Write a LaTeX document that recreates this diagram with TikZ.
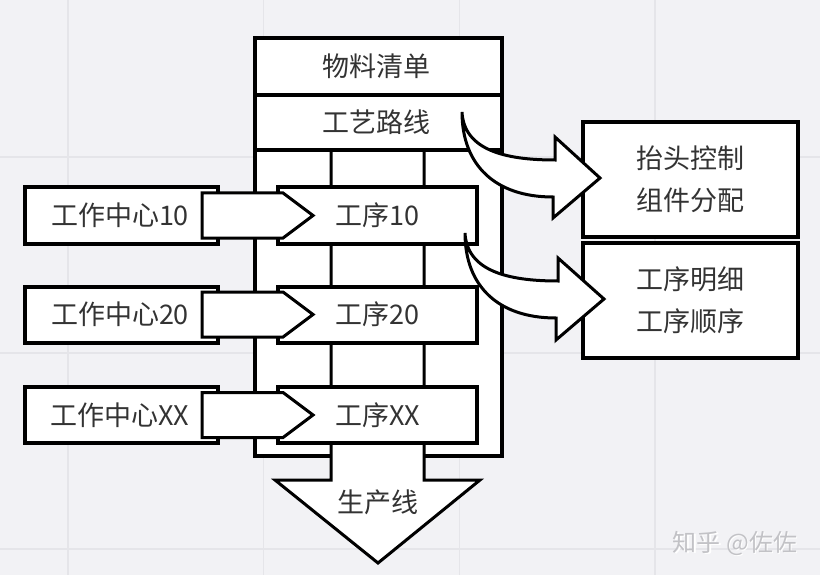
\documentclass[tikz,border=0pt]{standalone}
\usepackage{fontspec}
\newfontfamily\cjk{Noto Sans CJK SC}
\usetikzlibrary{calc}
\definecolor{bg}{HTML}{F2F2F5}
\definecolor{gridc}{HTML}{E5E5E9}
\definecolor{txt}{HTML}{333333}
\definecolor{wmc}{HTML}{C2C2C6}
\tikzset{
  box/.style={draw=black, line width=4pt, fill=white, inner sep=0pt, outer sep=0pt,
    text=txt, font=\cjk\fontsize{27}{42}\selectfont, align=center},
  label/.style={inner sep=0pt, text=txt, font=\cjk\fontsize{27}{42}\selectfont},
  thinline/.style={draw=black, line width=3pt},
  frameline/.style={draw=black, line width=4pt, line join=miter},
  parrow/.style={draw=black, line width=3pt, fill=white, line join=miter},
  carrow/.style={draw=black, line width=3pt, fill=white, line join=miter},
  gridline/.style={draw=gridc, line width=1.2pt},
}
\begin{document}
\begin{tikzpicture}[x=1pt,y=-1pt]
\fill[bg] (0,0) rectangle (820,575);
\useasboundingbox (0,0) rectangle (820,575);
% background grid
\foreach \gx in {68,263.7,459.3,655} \draw[gridline] (\gx,0) -- (\gx,575);
\foreach \gy in {157,353,549} \draw[gridline] (0,\gy) -- (820,\gy);

% frame body
\fill[white] (255,38) rectangle (502,456);
% vertical lines continuing into the production line arrow
\draw[thinline, fill=white, line join=miter] (331,150) -- (331,480) -- (275,480) -- (378,563) -- (480,480) -- (424,480) -- (424,150);
\draw[frameline] (331,456) -- (255,456) -- (255,38) -- (502,38) -- (502,456) -- (424,456);
\draw[frameline] (255,95) -- (502,95);
\draw[frameline] (255,150) -- (502,150);
\node[label] (bom) at (376.5,66.5) {物料清单};
\node[label] (route) at (376.5,122.5) {工艺路线};
\node[label] (line) at (378,502) {生产线};

% work centers and operations
\node[box, minimum width=193, minimum height=57] (w1) at (121.5,215.5) {工作中心10\hspace*{3pt}};
\node[box, minimum width=193, minimum height=56] (w2) at (121.5,314.5) {工作中心20\hspace*{3pt}};
\node[box, minimum width=193, minimum height=56] (w3) at (121.5,415) {工作中心XX\hspace*{3pt}};
\node[box, minimum width=199, minimum height=57] (p1) at (377.5,215.5) {工序10};
\node[box, minimum width=199, minimum height=56] (p2) at (377.5,314.5) {工序20};
\node[box, minimum width=199, minimum height=56] (p3) at (377.5,415) {工序XX};

\foreach \w in {w1,w2,w3}{
  \draw[parrow] ($(\w.east)+(-16,-22.5)$) -- ++(81,0) -- ++(30,22.5) -- ++(-30,22.5) -- ++(-81,0) -- cycle;
}

% right boxes
\node[box, minimum width=215, minimum height=115] (b1) at (690.5,179.5) {抬头控制\\组件分配};
\node[box, minimum width=215, minimum height=115] (b2) at (690.5,300.5) {工序明细\\工序顺序};

% curved arrows
\coordinate (s1) at (462,112);
\coordinate (s2) at (465,233);
\draw[carrow] (s1) .. controls ($(s1)+(2,38)$) and ($(s1)+(43,48)$) .. ($(s1)+(93,48)$)
  -- ($(s1)+(93,25)$) -- ($(s1)+(138,66)$) -- ($(s1)+(91,106)$) -- ($(s1)+(91,85)$)
  .. controls ($(s1)+(33,85)$) and ($(s1)+(0,53)$) .. (s1) -- cycle;
\draw[carrow] (s2) .. controls ($(s2)+(2,38)$) and ($(s2)+(43,48)$) .. ($(s2)+(93,48)$)
  -- ($(s2)+(93,25)$) -- ($(s2)+(139,66)$) -- ($(s2)+(91,107)$) -- ($(s2)+(91,85)$)
  .. controls ($(s2)+(33,85)$) and ($(s2)+(0,53)$) .. (s2) -- cycle;

% watermark
\node[inner sep=0pt, text=white, font=\cjk\fontsize{24}{24}\selectfont] (wm1) at (736.5,544.5) {知乎 @佐佐};
\node[inner sep=0pt, text=wmc, font=\cjk\fontsize{24}{24}\selectfont] (wm2) at (735,543) {知乎 @佐佐};
\end{tikzpicture}
\end{document}
